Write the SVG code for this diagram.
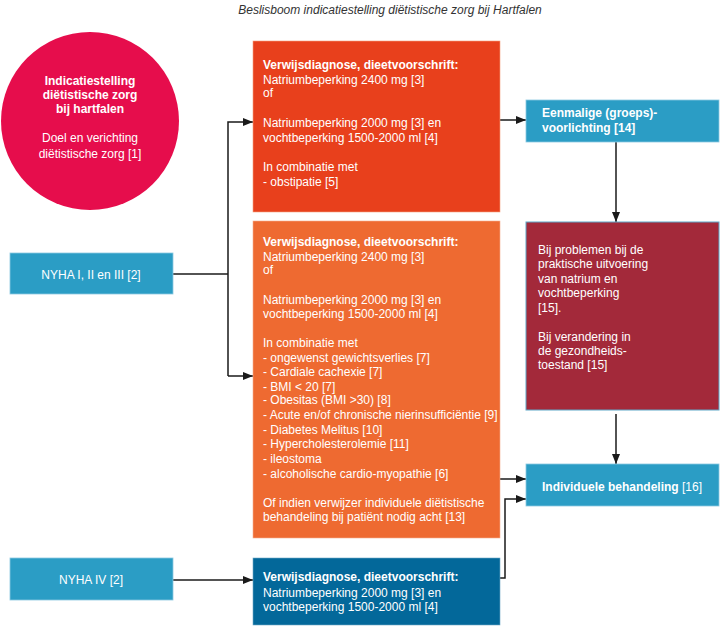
<svg xmlns="http://www.w3.org/2000/svg" width="720" height="633" viewBox="0 0 720 633">
<defs>
<marker id="ah" markerWidth="10" markerHeight="8" refX="10" refY="4" orient="auto" markerUnits="userSpaceOnUse">
<path d="M0,0 L10,4 L0,8 Z" fill="#1a1a1a"/>
</marker>
<style>
text{font-family:"Liberation Sans",Arial,sans-serif;font-size:12px;fill:#fff}
.b{font-weight:bold}
.title{font-style:italic;fill:#333;font-size:12px}
.con{fill:none;stroke:#1a1a1a;stroke-width:1.5;marker-end:url(#ah)}
.line{fill:none;stroke:#1a1a1a;stroke-width:1.5}
.lb{fill:#2b9dc5;stroke:#8cc9e0;stroke-width:0.8}
</style>
</defs>
<rect width="720" height="633" fill="#fff"/>
<text class="title" x="390" y="14" text-anchor="middle">Beslisboom indicatiestelling diëtistische zorg bij Hartfalen</text>

<g id="connectors">
<path class="line" d="M173,274 H228"/>
<path class="con" d="M228,376 V122 H253"/>
<path class="con" d="M228,376 H253"/>
<path class="con" d="M173,580 H253"/>
<path class="con" d="M500,120 H526"/>
<path class="con" d="M616,142 V222"/>
<path class="con" d="M616,414 V464"/>
<path class="con" d="M500,479 H526"/>
<path class="con" d="M500,578 H505 V499 H526"/>
</g>

<g id="circle">
<circle cx="90" cy="121" r="89" fill="#e60d4c"/>
<text class="b" x="90" y="85" text-anchor="middle">Indicatiestelling</text>
<text class="b" x="90" y="99" text-anchor="middle">diëtistische zorg</text>
<text class="b" x="90" y="113" text-anchor="middle">bij hartfalen</text>
<text x="90" y="142" text-anchor="middle">Doel en verichting</text>
<text x="90" y="158" text-anchor="middle">diëtistische zorg [1]</text>
</g>

<g id="nyha1">
<rect class="lb" x="10" y="253" width="163" height="41"/>
<text x="91" y="279" text-anchor="middle">NYHA I, II en III [2]</text>
</g>

<g id="nyha4">
<rect class="lb" x="10" y="558" width="163" height="42"/>
<text x="91" y="584" text-anchor="middle">NYHA IV [2]</text>
</g>

<g id="box1">
<rect x="253" y="41" width="247" height="171" fill="#e8401c" stroke="#f3a07f" stroke-width="0.6"/>
<text x="263" y="69" class="b">Verwijsdiagnose, dieetvoorschrift:</text>
<text x="263" y="84">Natriumbeperking 2400 mg [3]</text>
<text x="263" y="97">of</text>
<text x="263" y="127">Natriumbeperking 2000 mg [3] en</text>
<text x="263" y="142">vochtbeperking 1500-2000 ml [4]</text>
<text x="263" y="171">In combinatie met</text>
<text x="263" y="186">- obstipatie [5]</text>
</g>

<g id="box2">
<rect x="253" y="221" width="247" height="317" fill="#ee6a31" stroke="#f6b08f" stroke-width="0.6"/>
<text x="263" y="246" class="b">Verwijsdiagnose, dieetvoorschrift:</text>
<text x="263" y="261">Natriumbeperking 2400 mg [3]</text>
<text x="263" y="274">of</text>
<text x="263" y="304">Natriumbeperking 2000 mg [3] en</text>
<text x="263" y="318">vochtbeperking 1500-2000 ml [4]</text>
<text x="263" y="347">In combinatie met</text>
<text x="263" y="362">- ongewenst gewichtsverlies [7]</text>
<text x="263" y="376">- Cardiale cachexie [7]</text>
<text x="263" y="391">- BMI &lt; 20 [7]</text>
<text x="263" y="404">- Obesitas (BMI &gt;30) [8]</text>
<text x="263" y="419">- Acute en/of chronische nierinsufficiëntie [9]</text>
<text x="263" y="434">- Diabetes Melitus [10]</text>
<text x="263" y="448">- Hypercholesterolemie [11]</text>
<text x="263" y="463">- ileostoma</text>
<text x="263" y="478">- alcoholische cardio-myopathie [6]</text>
<text x="263" y="507">Of indien verwijzer individuele diëtistische</text>
<text x="263" y="521">behandeling bij patiënt nodig acht [13]</text>
</g>

<g id="box3">
<rect x="253" y="558" width="247" height="67" fill="#03689a" stroke="#6fa9c6" stroke-width="0.6"/>
<text x="263" y="581" class="b">Verwijsdiagnose, dieetvoorschrift:</text>
<text x="263" y="597">Natriumbeperking 2000 mg [3] en</text>
<text x="263" y="611">vochtbeperking 1500-2000 ml [4]</text>
</g>

<g id="eenmalig">
<rect class="lb" x="526" y="100" width="193" height="42"/>
<text x="542" y="117" class="b">Eenmalige (groeps)-</text>
<text x="542" y="132" class="b">voorlichting [14]</text>
</g>

<g id="problemen">
<rect x="526" y="222" width="193" height="188" fill="#a3293a" stroke="#5fa8c8" stroke-width="1"/>
<text x="538" y="254">Bij problemen bij de</text>
<text x="538" y="268">praktische uitvoering</text>
<text x="538" y="283">van natrium en</text>
<text x="538" y="297">vochtbeperking</text>
<text x="538" y="312">[15].</text>
<text x="538" y="341">Bij verandering in</text>
<text x="538" y="355">de gezondheids-</text>
<text x="538" y="369">toestand [15]</text>
</g>

<g id="individueel">
<rect class="lb" x="526" y="464" width="193" height="42"/>
<text x="622" y="491" text-anchor="middle"><tspan class="b">Individuele behandeling</tspan> [16]</text>
</g>
</svg>
